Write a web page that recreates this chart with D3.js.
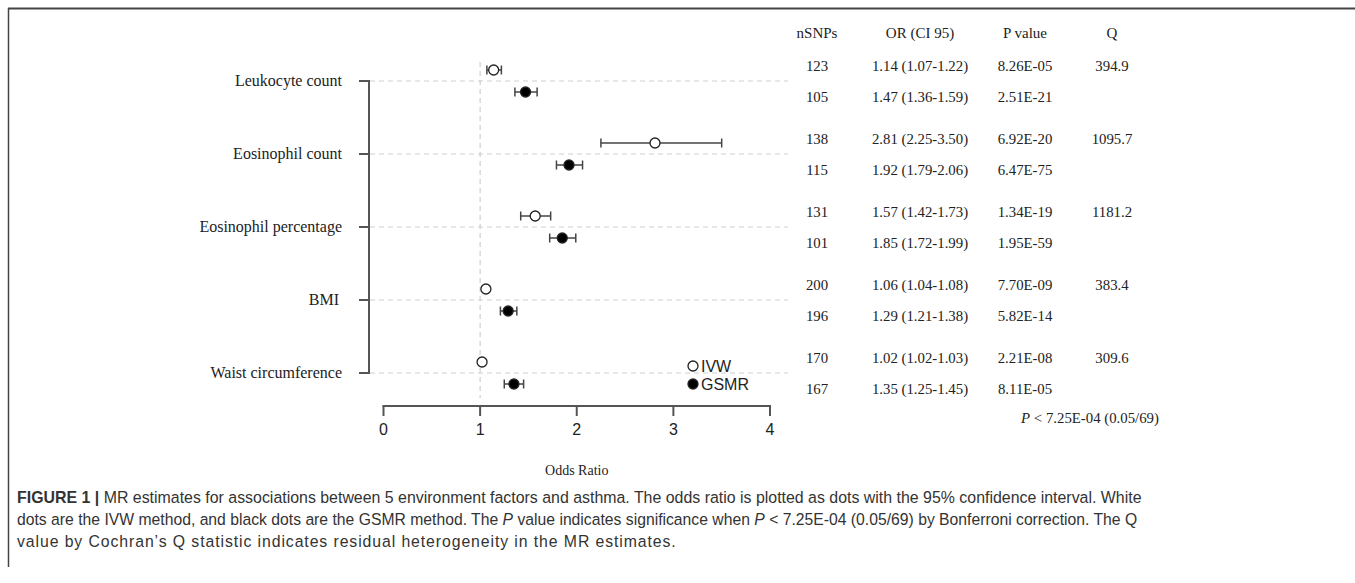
<!DOCTYPE html>
<html>
<head>
<meta charset="utf-8">
<script src="https://cdn.jsdelivr.net/npm/d3@7"></script>
<style>
	body { margin: 0; background: #fff; }
	svg { display: block; }
	.serif { font-family: "Liberation Serif", "Times New Roman", serif; fill: #222; }
	.sans { font-family: "Liberation Sans", Arial, sans-serif; fill: #222; }
</style>
</head>
<body>
<script>

// data
var categories = ['Leukocyte count', 'Eosinophil count', 'Eosinophil percentage', 'BMI', 'Waist circumference']

var ivwOR = [1.14, 2.81, 1.57, 1.06, 1.02]
var ivwLo = [1.07, 2.25, 1.42, 1.04, 1.02]
var ivwHi = [1.22, 3.50, 1.73, 1.08, 1.03]

var gsmrOR = [1.47, 1.92, 1.85, 1.29, 1.35]
var gsmrLo = [1.36, 1.79, 1.72, 1.21, 1.25]
var gsmrHi = [1.59, 2.06, 1.99, 1.38, 1.45]

var ivwSNPs = [123, 138, 131, 200, 170]
var gsmrSNPs = [105, 115, 101, 196, 167]
var ivwP = ['8.26E-05', '6.92E-20', '1.34E-19', '7.70E-09', '2.21E-08']
var gsmrP = ['2.51E-21', '6.47E-75', '1.95E-59', '5.82E-14', '8.11E-05']
var qStat = ['394.9', '1095.7', '1181.2', '383.4', '309.6']

var xTicks = [0, 1, 2, 3, 4]
var headers = ['nSNPs', 'OR (CI 95)', 'P value', 'Q']

var width = 1355
var height = 583

var svg = d3.select('body')
	.append('svg')
	.attr('width', width)
	.attr('height', height)

// frame
svg.append('line')
	.attr('x1', 8).attr('x2', width).attr('y1', 8.5).attr('y2', 8.5)
	.attr('stroke', '#444').attr('stroke-width', 2)
svg.append('line')
	.attr('x1', 8.5).attr('x2', 8.5).attr('y1', 8).attr('y2', 567)
	.attr('stroke', '#444').attr('stroke-width', 1.5)

var xScale = d3.scaleLinear()
	.domain([0, 4])
	.range([383.5, 770])

var yScale = d3.scalePoint()
	.domain(categories)
	.range([81, 373])

var rows = categories.map((c, i) => ({
	name : c,
	ivw : { or : ivwOR[i], lo : ivwLo[i], hi : ivwHi[i], n : ivwSNPs[i], p : ivwP[i] },
	gsmr : { or : gsmrOR[i], lo : gsmrLo[i], hi : gsmrHi[i], n : gsmrSNPs[i], p : gsmrP[i] },
	q : qStat[i]
}))

// grid
var grid = svg.append('g')
	.attr('stroke', '#cfcfcf')
	.attr('stroke-dasharray', '5,4')
	.attr('stroke-width', 1.2)

grid.selectAll('line.h')
	.data(categories)
	.enter().append('line')
		.attr('class', 'h')
		.attr('x1', 370).attr('x2', 788)
		.attr('y1', d => yScale(d)).attr('y2', d => yScale(d))

grid.append('line')
	.attr('x1', xScale(1)).attr('x2', xScale(1))
	.attr('y1', 62).attr('y2', 398)

// y axis (R style)
var yAxis = svg.append('g').attr('stroke', '#555').attr('stroke-width', 2)
yAxis.append('line')
	.attr('x1', 369).attr('x2', 369)
	.attr('y1', yScale(categories[0]) - 1).attr('y2', yScale(categories[4]) + 1)
yAxis.selectAll('line.tick')
	.data(categories)
	.enter().append('line')
		.attr('class', 'tick')
		.attr('x1', 359).attr('x2', 369)
		.attr('y1', d => yScale(d)).attr('y2', d => yScale(d))

svg.selectAll('text.cat')
	.data(categories)
	.enter().append('text')
		.attr('class', 'cat serif')
		.attr('x', d => d === 'BMI' ? 339 : 342)
		.attr('y', d => yScale(d))
		.attr('dy', '0.3em')
		.attr('text-anchor', 'end')
		.style('font-size', '16px')
		.text(d => d)

// x axis (R style, ticks downward)
var xAxis = svg.append('g').attr('stroke', '#555').attr('stroke-width', 2)
xAxis.append('line')
	.attr('x1', xScale(0) - 1).attr('x2', xScale(4) + 1)
	.attr('y1', 406).attr('y2', 406)
xAxis.selectAll('line.tick')
	.data(xTicks)
	.enter().append('line')
		.attr('class', 'tick')
		.attr('x1', d => xScale(d)).attr('x2', d => xScale(d))
		.attr('y1', 406).attr('y2', 416)

svg.selectAll('text.xtick')
	.data(xTicks)
	.enter().append('text')
		.attr('class', 'xtick sans')
		.attr('x', d => xScale(d))
		.attr('y', 435)
		.attr('text-anchor', 'middle')
		.style('font-size', '16px')
		.text(d => d)

svg.append('text')
	.attr('class', 'serif')
	.attr('x', xScale(2))
	.attr('y', 475)
	.attr('text-anchor', 'middle')
	.style('font-size', '14px')
	.text('Odds Ratio')

// estimates with CI
var ivwOff = -11
var gsmrOff = 11

function drawSeries(key, off, fill) {
	var g = svg.append('g')
	var item = g.selectAll('g.' + key)
		.data(rows)
		.enter().append('g')
			.attr('class', key)
			.attr('transform', d => `translate(0, ${yScale(d.name) + off})`)

	item.append('line')
		.attr('x1', d => xScale(d[key].lo)).attr('x2', d => xScale(d[key].hi))
		.attr('stroke', '#444').attr('stroke-width', 1.5)
	item.append('line')
		.attr('x1', d => xScale(d[key].lo)).attr('x2', d => xScale(d[key].lo))
		.attr('y1', -4.5).attr('y2', 4.5)
		.attr('stroke', '#444').attr('stroke-width', 1.5)
	item.append('line')
		.attr('x1', d => xScale(d[key].hi)).attr('x2', d => xScale(d[key].hi))
		.attr('y1', -4.5).attr('y2', 4.5)
		.attr('stroke', '#444').attr('stroke-width', 1.5)
	item.append('circle')
		.attr('cx', d => xScale(d[key].or))
		.attr('r', 5)
		.attr('fill', fill)
		.attr('stroke', '#222')
		.attr('stroke-width', 1.3)
}

drawSeries('ivw', ivwOff, '#fff')
drawSeries('gsmr', gsmrOff, '#000')

// legend
var legend = svg.append('g').attr('transform', 'translate(693, 0)')
legend.append('circle').attr('cy', 366).attr('r', 5).attr('fill', '#fff').attr('stroke', '#222').attr('stroke-width', 1.3)
legend.append('circle').attr('cy', 384).attr('r', 5).attr('fill', '#000').attr('stroke', '#222').attr('stroke-width', 1.3)
legend.append('text').attr('class', 'sans').attr('x', 8).attr('y', 366).attr('dy', '0.36em').style('font-size', '16px').text('IVW')
legend.append('text').attr('class', 'sans').attr('x', 8).attr('y', 384).attr('dy', '0.36em').style('font-size', '16px').text('GSMR')

// table
var colX = [817, 920, 1025, 1112]

svg.selectAll('text.head')
	.data(headers)
	.enter().append('text')
		.attr('class', 'head serif')
		.attr('x', (d, i) => colX[i])
		.attr('y', 33)
		.attr('dy', '0.32em')
		.attr('text-anchor', 'middle')
		.style('font-size', '15px')
		.text(d => d)

var tableOff = { ivw : -15, gsmr : 16 }

function orText(e) {
	return `${e.or.toFixed(2)} (${e.lo.toFixed(2)}-${e.hi.toFixed(2)})`
}

;['ivw', 'gsmr'].forEach(key => {
	var r = svg.append('g').selectAll('g')
		.data(rows)
		.enter().append('g')
			.attr('transform', d => `translate(0, ${yScale(d.name) + tableOff[key]})`)
	var cells = [d => d[key].n, d => orText(d[key]), d => d[key].p]
	if (key === 'ivw') cells.push(d => d.q)
	cells.forEach((f, i) => {
		r.append('text')
			.attr('class', 'serif')
			.attr('x', colX[i])
			.attr('dy', '0.32em')
			.attr('text-anchor', 'middle')
			.style('font-size', '14.8px')
			.text(f)
	})
})

var note = svg.append('text')
	.attr('class', 'serif')
	.attr('x', 1090)
	.attr('y', 418)
	.attr('dy', '0.32em')
	.attr('text-anchor', 'middle')
	.style('font-size', '14.8px')
note.append('tspan').style('font-style', 'italic').text('P')
note.append('tspan').text(' < 7.25E-04 (0.05/69)')

// caption
var captionLines = [
	[['b', 'FIGURE 1 | '], ['', 'MR estimates for associations between 5 environment factors and asthma. The odds ratio is plotted as dots with the 95% confidence interval. White']],
	[['', 'dots are the IVW method, and black dots are the GSMR method. The '], ['i', 'P'], ['', ' value indicates significance when '], ['i', 'P'], ['', ' < 7.25E-04 (0.05/69) by Bonferroni correction. The Q']],
	[['', 'value by Cochran\u2019s Q statistic indicates residual heterogeneity in the MR estimates.']]
]
var captionY = [503, 525, 547]
var captionEnd = [1142, 1138, 677]

var ks = []
captionLines.forEach((parts, i) => {
	var t = svg.append('text')
		.attr('class', 'sans')
		.attr('x', 0)
		.attr('y', 0)
		.style('font-size', '16.5px')
		.style('fill', '#333')
		.attr('xml:space', 'preserve')
	parts.forEach(p => {
		t.append('tspan')
			.style('font-weight', p[0] === 'b' ? 'bold' : null)
			.style('font-style', p[0] === 'i' ? 'italic' : null)
			.text(p[1])
	})
	var w = t.node().getComputedTextLength()
	var k
	if (i < 2) {
		k = (captionEnd[i] - 17) / w
		ks.push(k)
	} else {
		// last line: same glyph scale, spread with letter spacing
		k = d3.mean(ks)
		var n = parts.map(p => p[1]).join('').length
		t.style('letter-spacing', (((captionEnd[i] - 17) / k - w) / n) + 'px')
	}
	t.attr('transform', `translate(17, ${captionY[i]}) scale(${k}, 1)`)
})

</script>
</body>
</html>
